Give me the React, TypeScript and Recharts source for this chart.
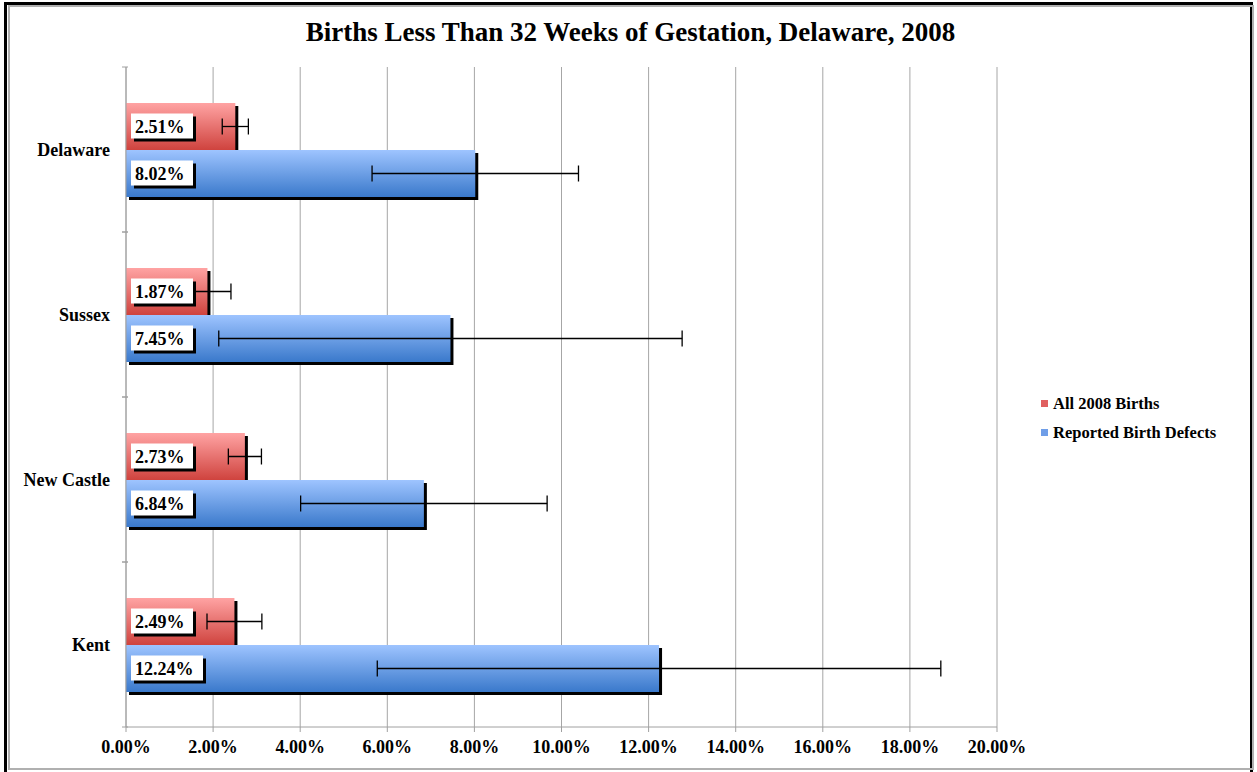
import React from 'react';
import {
  BarChart, Bar, XAxis, YAxis, CartesianGrid, ErrorBar, LabelList
} from 'recharts';

const counties = ['Delaware', 'Sussex', 'New Castle', 'Kent'];
const allBirths = [2.51, 1.87, 2.73, 2.49];
const allBirthsErr = [0.3, 0.54, 0.38, 0.63];
const birthDefects = [8.02, 7.45, 6.84, 12.24];
const birthDefectsErr = [2.37, 5.32, 2.83, 6.47];
const xTicks = [0, 2, 4, 6, 8, 10, 12, 14, 16, 18, 20];

const data = counties.map((name, i) => ({
  name,
  all: allBirths[i],
  allErr: allBirthsErr[i],
  defects: birthDefects[i],
  defectsErr: birthDefectsErr[i],
}));

const FONT = '"Liberation Serif", "Times New Roman", serif';

const ShadowBar = (props: any) => {
  const { x, y, width, height, fill } = props;
  return (
    <g>
      <rect x={x + 3} y={y + 3} width={width} height={height} fill="#000" />
      <rect x={x} y={y} width={width} height={height} fill={fill} />
    </g>
  );
};

const ValueLabel = (props: any) => {
  const { x, y, height, value } = props;
  const txt = `${Number(value).toFixed(2)}%`;
  const w = 12 + txt.length * 10;
  const cy = y + height / 2;
  return (
    <g>
      <rect x={x + 8} y={cy - 10} width={w} height={25} fill="#000" />
      <rect x={x + 5} y={cy - 13} width={w} height={25} fill="#fff" />
      <text x={x + 9} y={cy + 6} fontFamily={FONT} fontWeight="bold" fontSize={18} fill="#000">
        {txt}
      </text>
    </g>
  );
};

const CountyTick = (props: any) => {
  const { x, y, payload } = props;
  return (
    <g>
      <line x1={x + 4} x2={x + 10} y1={y - 82.5} y2={y - 82.5} stroke="#a0a0a0" />
      <line x1={x + 4} x2={x + 10} y1={y + 82.5} y2={y + 82.5} stroke="#a0a0a0" />
      <text x={x - 8} y={y + 6} textAnchor="end" fontFamily={FONT} fontWeight="bold" fontSize={18} fill="#000">
        {payload.value}
      </text>
    </g>
  );
};

const legendItems = [
  { label: 'All 2008 Births', color: '#e06060' },
  { label: 'Reported Birth Defects', color: '#6f9ee8' },
];

export default function App() {
  return (
    <div style={{ position: 'absolute', left: 0, top: 0, width: 1257, height: 772, background: '#fff' }}>
      <div style={{
        position: 'absolute', left: 4, top: 2, width: 1249, height: 770,
        borderLeft: '3px solid #000', borderTop: '3px solid #000', borderRight: '3px solid #000', boxSizing: 'border-box',
      }} />
      <div style={{
        position: 'absolute', left: 8, top: 5, width: 1246, height: 765,
        border: '2px solid #b0b0b0', boxSizing: 'border-box',
      }} />
      <div style={{
        position: 'absolute', left: 2, top: 17, width: 1257, textAlign: 'center',
        fontFamily: FONT, fontWeight: 'bold', fontSize: 27, color: '#000',
      }}>
        Births Less Than 32 Weeks of Gestation, Delaware, 2008
      </div>
      <div style={{ position: 'absolute', left: 1041, top: 389, fontFamily: FONT, fontWeight: 'bold', fontSize: 16.5 }}>
        {legendItems.map((it) => (
          <div key={it.label} style={{ display: 'flex', alignItems: 'center', height: 29 }}>
            <span style={{ width: 7, height: 7, background: it.color, marginRight: 5, display: 'inline-block' }} />
            <span>{it.label}</span>
          </div>
        ))}
      </div>
      <div style={{ position: 'absolute', left: 0, top: 0 }}>
        <BarChart
          width={1257}
          height={772}
          data={data}
          layout="vertical"
          margin={{ top: 67, right: 260, bottom: 15, left: 10 }}
          barSize={47}
          barGap={0}
        >
          <defs>
            <linearGradient id="gradRed" x1="0" y1="0" x2="0" y2="1">
              <stop offset="0%" stopColor="#ffa3a3" />
              <stop offset="100%" stopColor="#cf433e" />
            </linearGradient>
            <linearGradient id="gradBlue" x1="0" y1="0" x2="0" y2="1">
              <stop offset="0%" stopColor="#9ec4ff" />
              <stop offset="100%" stopColor="#3a79cb" />
            </linearGradient>
          </defs>
          <CartesianGrid horizontal={false} stroke="#a6a6a6" strokeDasharray="" />
          <XAxis
            type="number"
            domain={[0, 20]}
            ticks={xTicks}
            tickFormatter={(v: number) => `${v.toFixed(2)}%`}
            stroke="#a0a0a0"
            tickSize={5}
            tickMargin={8}
            height={30}
            interval={0}
            tick={{ fill: '#000', fontFamily: FONT, fontWeight: 'bold', fontSize: 18 }}
          />
          <YAxis
            type="category"
            dataKey="name"
            width={116}
            stroke="#a0a0a0"
            tickLine={false}
            tick={<CountyTick />}
          />
          <Bar dataKey="all" name="All 2008 Births" fill="url(#gradRed)" shape={<ShadowBar />} isAnimationActive={false}>
            <ErrorBar dataKey="allErr" direction="x" width={8} stroke="#000" strokeWidth={1.3} />
            <LabelList dataKey="all" content={<ValueLabel />} />
          </Bar>
          <Bar dataKey="defects" name="Reported Birth Defects" fill="url(#gradBlue)" shape={<ShadowBar />} isAnimationActive={false}>
            <ErrorBar dataKey="defectsErr" direction="x" width={8} stroke="#000" strokeWidth={1.3} />
            <LabelList dataKey="defects" content={<ValueLabel />} />
          </Bar>
        </BarChart>
      </div>
    </div>
  );
}
